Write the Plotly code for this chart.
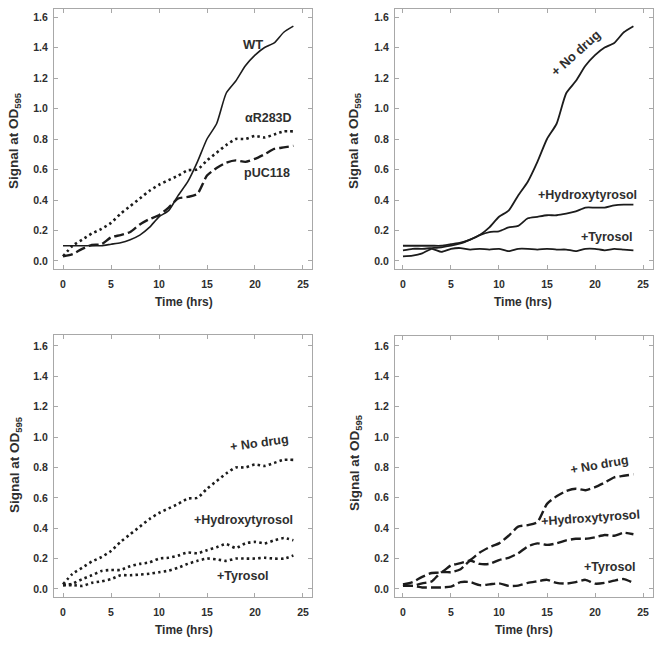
import plotly.graph_objects as go

# ---------------- data ----------------
time_h = list(range(25))

wt = [0.10, 0.10, 0.10, 0.10, 0.10, 0.11, 0.12, 0.14, 0.17, 0.22, 0.29, 0.33, 0.43,
      0.52, 0.65, 0.80, 0.90, 1.10, 1.18, 1.28, 1.35, 1.40, 1.43, 1.50, 1.54]
ar283d = [0.03, 0.10, 0.14, 0.18, 0.21, 0.25, 0.31, 0.36, 0.41, 0.46, 0.50, 0.53, 0.56,
          0.595, 0.60, 0.66, 0.71, 0.76, 0.80, 0.80, 0.82, 0.81, 0.83, 0.85, 0.85]
puc118 = [0.03, 0.045, 0.08, 0.105, 0.11, 0.155, 0.17, 0.19, 0.24, 0.275, 0.30, 0.35, 0.41,
          0.42, 0.44, 0.56, 0.61, 0.645, 0.66, 0.65, 0.67, 0.70, 0.735, 0.745, 0.755]

wt_hydroxy = [0.07, 0.08, 0.08, 0.085, 0.09, 0.10, 0.115, 0.14, 0.17, 0.19, 0.195, 0.22, 0.23,
              0.28, 0.29, 0.30, 0.30, 0.31, 0.325, 0.35, 0.35, 0.35, 0.365, 0.37, 0.37]
wt_tyrosol = [0.03, 0.035, 0.05, 0.08, 0.06, 0.08, 0.085, 0.075, 0.08, 0.075, 0.08, 0.065, 0.08,
              0.08, 0.075, 0.08, 0.075, 0.075, 0.065, 0.08, 0.08, 0.07, 0.08, 0.075, 0.07]

ar_hydroxy = [0.025, 0.035, 0.065, 0.09, 0.118, 0.125, 0.125, 0.15, 0.165, 0.175, 0.20, 0.205, 0.22,
              0.24, 0.235, 0.255, 0.275, 0.295, 0.27, 0.30, 0.31, 0.30, 0.32, 0.335, 0.32]
ar_tyrosol = [0.025, 0.025, 0.02, 0.04, 0.05, 0.065, 0.09, 0.09, 0.095, 0.10, 0.11, 0.12, 0.14,
              0.165, 0.185, 0.20, 0.195, 0.185, 0.20, 0.20, 0.20, 0.205, 0.20, 0.20, 0.22]

puc_hydroxy = [0.03, 0.02, 0.037, 0.05, 0.11, 0.11, 0.13, 0.185, 0.165, 0.165, 0.19, 0.205, 0.235,
               0.28, 0.30, 0.29, 0.30, 0.32, 0.33, 0.33, 0.34, 0.355, 0.35, 0.37, 0.36]
puc_tyrosol = [0.02, 0.02, 0.01, 0.01, 0.01, 0.015, 0.045, 0.045, 0.025, 0.03, 0.037, 0.02, 0.022,
               0.04, 0.05, 0.06, 0.04, 0.035, 0.045, 0.06, 0.035, 0.04, 0.055, 0.065, 0.04]

y_ticks = [0.0, 0.2, 0.4, 0.6, 0.8, 1.0, 1.2, 1.4, 1.6]
x_ticks = [0, 5, 10, 15, 20, 25]

# ---------------- figure ----------------
W, H = 664, 647
INK = "#1c1c1c"
TXT = "#2e2e2e"
FRAME = "#a8a8a8"
FONT = "Liberation Sans, Arial, sans-serif"

SOLID = "solid"
DOT = "2.5px,3.2px"
DASH = "10px,4px"

fig = go.Figure()

panels = [
    ("x", "y", [(wt, SOLID, 1.6), (ar283d, DOT, 2.6), (puc118, DASH, 2.4)]),
    ("x2", "y2", [(wt, SOLID, 1.8), (wt_hydroxy, SOLID, 1.8), (wt_tyrosol, SOLID, 1.8)]),
    ("x3", "y3", [(ar283d, DOT, 2.6), (ar_hydroxy, DOT, 2.6), (ar_tyrosol, DOT, 2.6)]),
    ("x4", "y4", [(puc118, DASH, 2.4), (puc_hydroxy, DASH, 2.4), (puc_tyrosol, DASH, 2.4)]),
]
for xa, ya, series in panels:
    for vals, dash, w in series:
        fig.add_trace(go.Scatter(
            x=time_h, y=vals, xaxis=xa, yaxis=ya, mode="lines",
            line=dict(color=INK, width=w, dash=dash, shape="spline", smoothing=0.6),
            showlegend=False, hoverinfo="skip"))

def px_x(p):
    return p / W

def px_y(p):
    return 1 - p / H

axis_common = dict(
    showline=True, linecolor=FRAME, linewidth=1, mirror="ticks",
    ticks="inside", ticklen=4, tickwidth=1, tickcolor=FRAME,
    showgrid=False, zeroline=False, fixedrange=True,
    tickfont=dict(family=FONT, size=10.5, color=TXT, weight="bold"),
)

frames = {
    "1": ((54, 312, 9, 269), [-0.94, 25.94], [-0.0525, 1.6525]),
    "2": ((395, 653, 9, 269), [-0.83, 26.04], [-0.0525, 1.6525]),
    "3": ((54, 312, 335, 597), [-0.94, 25.94], [-0.053, 1.672]),
    "4": ((395, 653, 336, 597), [-0.83, 26.04], [-0.053, 1.665]),
}
layout_axes = {}
for k, ((l, r, t, b), xr, yr) in frames.items():
    sx = "" if k == "1" else k
    layout_axes["xaxis" + sx] = dict(
        axis_common, domain=[px_x(l), px_x(r)], range=xr,
        tickvals=x_ticks, anchor="y" + sx, ticklabelstandoff=5)
    layout_axes["yaxis" + sx] = dict(
        axis_common, domain=[px_y(b), px_y(t)], range=yr,
        tickvals=y_ticks, tickformat=".1f", anchor="x" + sx, ticklabelstandoff=3)

annotations = []

def add_text(x, y, text, size=12.5, angle=0, bold=True):
    annotations.append(dict(
        x=px_x(x), y=px_y(y), xref="paper", yref="paper", text=text,
        showarrow=False, textangle=angle, xanchor="center", yanchor="middle",
        font=dict(family=FONT, size=size, color=TXT, weight="bold" if bold else "normal")))

for (xc, yc) in [(184, 302), (523, 302), (184, 630), (524, 630)]:
    add_text(xc, yc, "Time (hrs)", size=12)
for (xc, yc) in [(15, 141), (355, 141), (15, 465), (355, 463)]:
    add_text(xc, yc, "Signal at OD<sub>595</sub>", size=13.5, angle=-90)

add_text(253, 45, "WT", size=13)
add_text(268, 118, "\u03b1R283D")
add_text(267, 173, "pUC118")

add_text(575, 53, "+ No drug", size=13, angle=-42)
add_text(587, 195, "+Hydroxytyrosol")
add_text(607, 237, "+Tyrosol")

add_text(259, 443, "+ No drug", angle=-8)
add_text(243, 520, "+Hydroxytyrosol")
add_text(243, 576, "+Tyrosol")

add_text(599, 465, "+ No drug", angle=-10)
add_text(590, 518, "+Hydroxytyrosol", angle=-4)
add_text(610, 567, "+Tyrosol")

fig.update_layout(
    width=W, height=H, margin=dict(l=0, r=0, t=0, b=0),
    paper_bgcolor="white", plot_bgcolor="white", hovermode=False,
    annotations=annotations, **layout_axes)

fig.write_html("out.html", config={"displayModeBar": False, "staticPlot": True},
               post_script="document.body.style.margin='0px';")
